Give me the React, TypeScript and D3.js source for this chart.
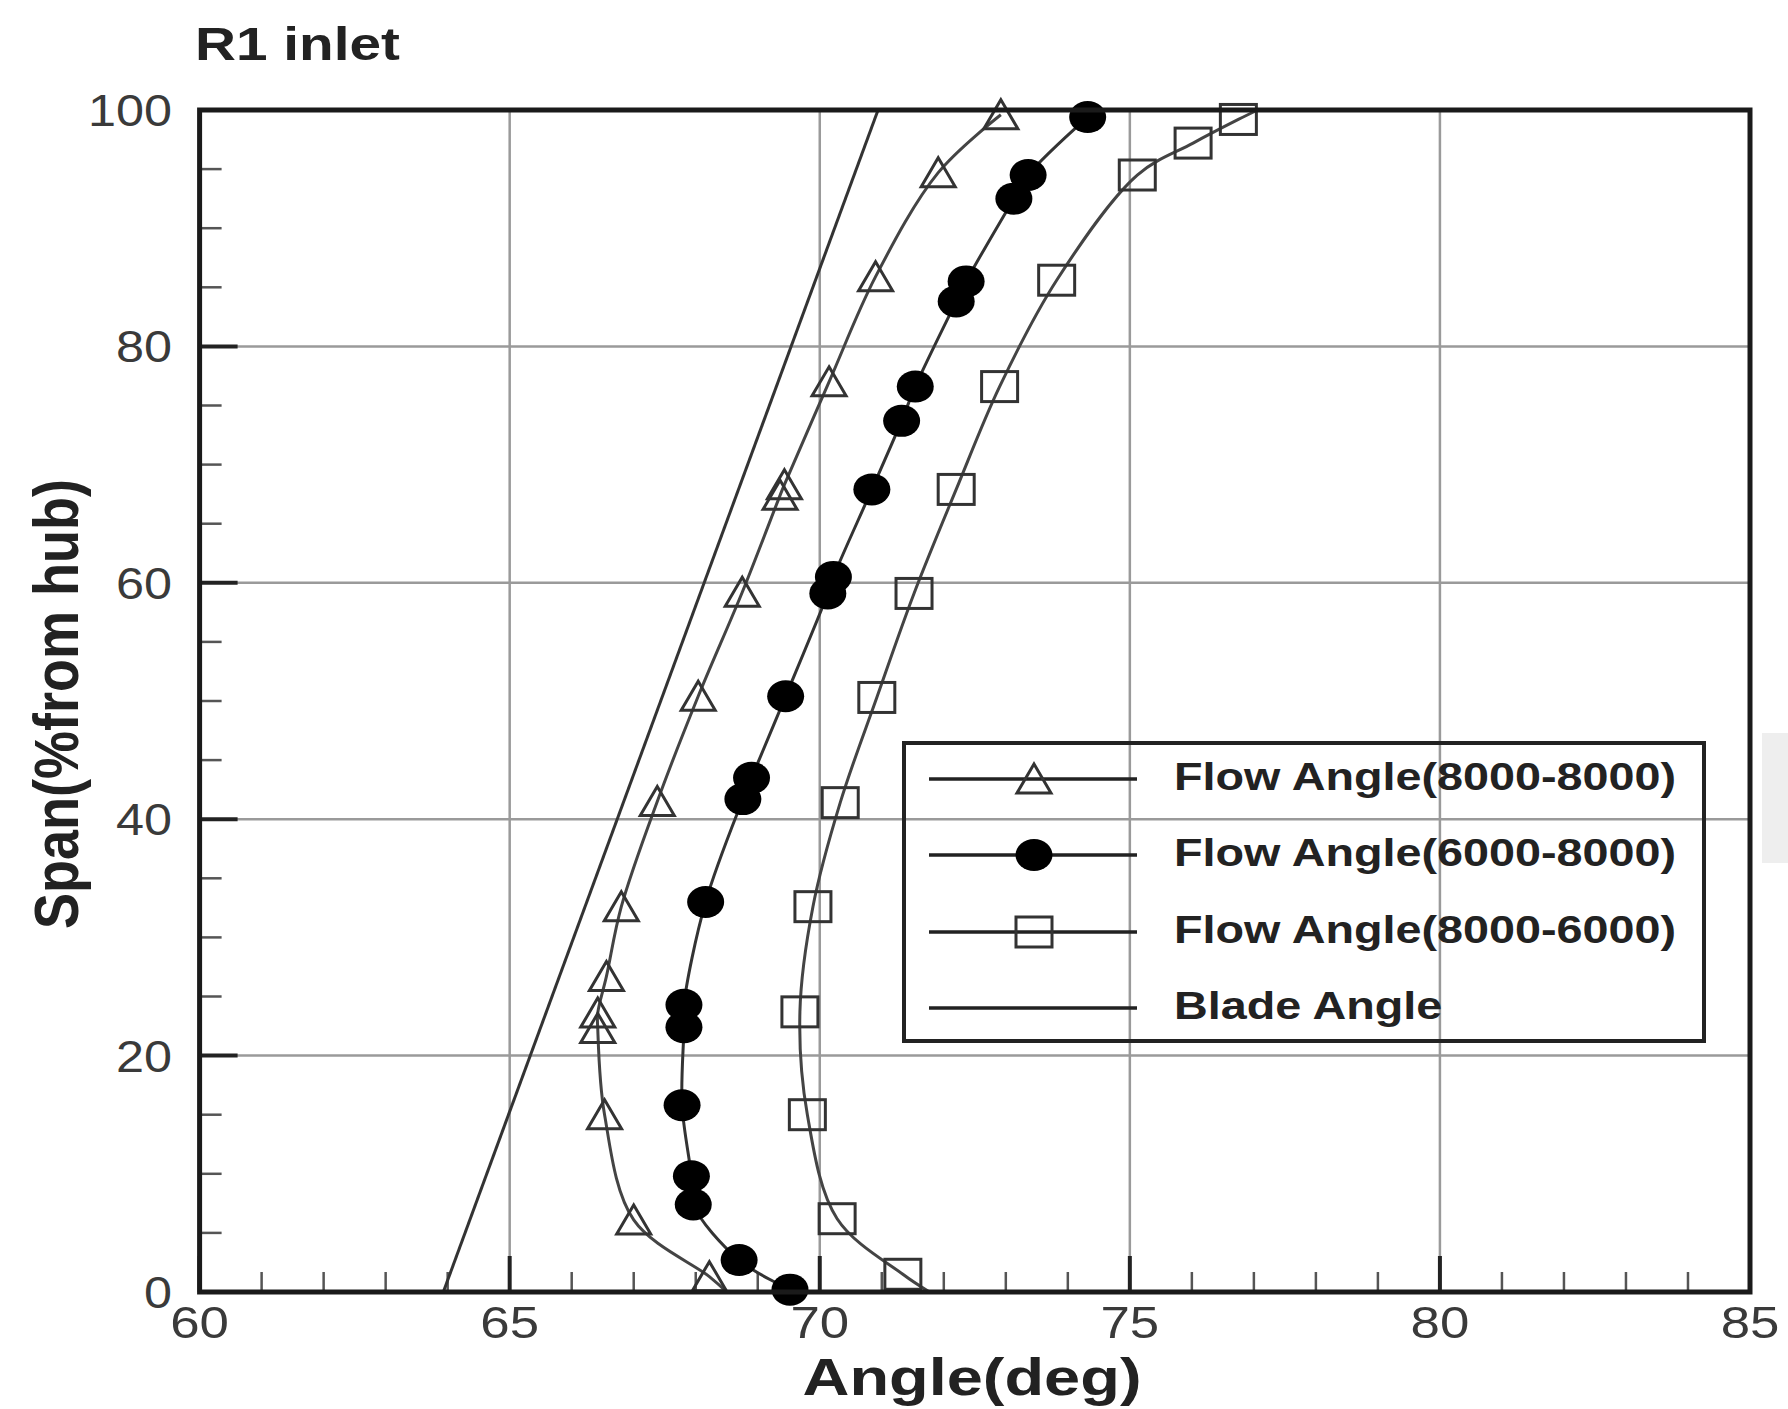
import React from "react";
import * as d3 from "d3";

// ---- data (angle in deg, span in % from hub) ----
const flow8080: [number, number][] = [
  [68.22, 1.3], [67.0, 6.1], [66.53, 15.0], [66.42, 22.3], [66.42, 23.6], [66.56, 26.7],
  [66.8, 32.6], [67.38, 41.5], [68.04, 50.4], [68.75, 59.2], [69.36, 67.4], [69.43, 68.3],
  [70.15, 77.0], [70.9, 85.9], [71.91, 94.7], [72.92, 99.6],
];
const flow6080: [number, number][] = [
  [69.52, 0.2], [68.7, 2.7], [67.96, 7.4], [67.93, 9.8], [67.78, 15.8], [67.81, 22.4],
  [67.81, 24.3], [68.16, 33.0], [68.76, 41.7], [68.9, 43.5], [69.45, 50.4], [70.13, 59.1],
  [70.22, 60.5], [70.84, 67.9], [71.32, 73.7], [71.54, 76.6], [72.2, 83.8], [72.36, 85.5],
  [73.13, 92.5], [73.36, 94.5], [74.32, 99.4],
];
const flow8060: [number, number][] = [
  [71.34, 1.5], [70.28, 6.2], [69.8, 15.0], [69.68, 23.7], [69.89, 32.6], [70.33, 41.4],
  [70.92, 50.3], [71.52, 59.1], [72.2, 67.9], [72.9, 76.6], [73.82, 85.6], [75.12, 94.5],
  [76.02, 97.2], [76.75, 99.2],
];
// where the fitted curves run on to the frame
const flow8080Ends: [number, number][] = [[68.5, 0]];
const flow8060Ends: [number, number][] = [[71.77, 0], [77.06, 100]];
const bladeAngle: [number, number][] = [[63.93, 0], [70.94, 100]];

const xMajor = [60, 65, 70, 75, 80, 85];
const yMajor = [0, 20, 40, 60, 80, 100];
const xMinor = d3.range(61, 85).filter((v) => v % 5 !== 0);
const yMinor = d3.range(5, 100, 5).filter((v) => v % 20 !== 0);

const legendLabels = [
  "Flow Angle(8000-8000)",
  "Flow Angle(6000-8000)",
  "Flow Angle(8000-6000)",
  "Blade Angle",
];

const FONT = "'Liberation Sans', Arial, Helvetica, sans-serif";

const L = 199.6, R = 1750, T = 110, B = 1292;
const x = d3.scaleLinear().domain([60, 85]).range([L, R]);
const y = d3.scaleLinear().domain([0, 100]).range([B, T]);

const line = d3
  .line<[number, number]>()
  .x((d) => x(d[0]))
  .y((d) => y(d[1]))
  .curve(d3.curveCatmullRom.alpha(0.5));
const straight = d3
  .line<[number, number]>()
  .x((d) => x(d[0]))
  .y((d) => y(d[1]));

const withEnds = (pts: [number, number][], ends: [number, number][]) =>
  [...pts, ...ends].sort((a, b) => a[1] - b[1]);

function Tri({ cx, cy }: { cx: number; cy: number }) {
  return (
    <path
      d={`M${cx},${cy - 15}L${cx + 17},${cy + 14}L${cx - 17},${cy + 14}Z`}
      fill="none"
      stroke="#333"
      strokeWidth={3}
    />
  );
}
function Dot({ cx, cy }: { cx: number; cy: number }) {
  return <ellipse cx={cx} cy={cy} rx={18.5} ry={16} fill="#000" />;
}
function Sq({ cx, cy }: { cx: number; cy: number }) {
  return (
    <rect x={cx - 18} y={cy - 15} width={36} height={30} fill="none" stroke="#333" strokeWidth={3} />
  );
}

export default function App() {
  const legendX = 904, legendY = 743, legendW = 800, legendH = 298;
  const rowY = [779, 855, 932, 1008];
  const markers = [Tri, Dot, Sq, null];
  return (
    <svg
      width={1788}
      height={1409}
      style={{ position: "absolute", left: 0, top: 0 }}
      fontFamily={FONT}
    >
      <rect x={0} y={0} width={1788} height={1409} fill="#fff" />
      <rect x={1762} y={733} width={26} height={130} fill="#eeeeee" />

      {/* grid */}
      {xMajor.filter((v) => v > 60 && v < 85).map((v) => (
        <line key={"gx" + v} x1={x(v)} x2={x(v)} y1={T} y2={B} stroke="#9a9a9a" strokeWidth={2.5} />
      ))}
      {yMajor.filter((v) => v > 0 && v < 100).map((v) => (
        <line key={"gy" + v} x1={L} x2={R} y1={y(v)} y2={y(v)} stroke="#9a9a9a" strokeWidth={2.5} />
      ))}

      {/* ticks */}
      {xMinor.map((v) => (
        <line key={"mx" + v} x1={x(v)} x2={x(v)} y1={B} y2={B - 20} stroke="#555" strokeWidth={2.5} />
      ))}
      {xMajor.map((v) => (
        <line key={"Mx" + v} x1={x(v)} x2={x(v)} y1={B} y2={B - 36} stroke="#222" strokeWidth={4} />
      ))}
      {yMinor.map((v) => (
        <line key={"my" + v} x1={L} x2={L + 22} y1={y(v)} y2={y(v)} stroke="#555" strokeWidth={2.5} />
      ))}
      {yMajor.map((v) => (
        <line key={"My" + v} x1={L} x2={L + 38} y1={y(v)} y2={y(v)} stroke="#222" strokeWidth={4} />
      ))}

      {/* blade angle */}
      <path d={straight(bladeAngle) || ""} fill="none" stroke="#333" strokeWidth={3} />

      {/* series lines */}
      <path d={line(withEnds(flow8080, flow8080Ends)) || ""} fill="none" stroke="#444" strokeWidth={3} />
      <path d={line(flow6080) || ""} fill="none" stroke="#333" strokeWidth={3} />
      <path d={line(withEnds(flow8060, flow8060Ends)) || ""} fill="none" stroke="#444" strokeWidth={3} />

      {flow8080.map((d, i) => (
        <Tri key={"t" + i} cx={x(d[0])} cy={y(d[1])} />
      ))}
      {flow6080.map((d, i) => (
        <Dot key={"c" + i} cx={x(d[0])} cy={y(d[1])} />
      ))}
      {flow8060.map((d, i) => (
        <Sq key={"s" + i} cx={x(d[0])} cy={y(d[1])} />
      ))}

      {/* legend */}
      <rect x={legendX} y={legendY} width={legendW} height={legendH} fill="none" stroke="#222" strokeWidth={4} />
      {legendLabels.map((lab, i) => {
        const M = markers[i];
        return (
          <g key={"lg" + i}>
            <line x1={929} x2={1137} y1={rowY[i]} y2={rowY[i]} stroke="#222" strokeWidth={3.5} />
            {M && <M cx={1034} cy={rowY[i]} />}
            <text
              transform={`translate(1174,${rowY[i] + 11}) scale(1.23,1)`}
              fontSize={38}
              fontWeight="bold"
              fill="#222"
            >
              {lab}
            </text>
          </g>
        );
      })}

      {/* frame */}
      <rect x={L} y={T} width={R - L} height={B - T} fill="none" stroke="#1a1a1a" strokeWidth={5} />

      {/* tick labels */}
      {xMajor.map((v) => (
        <text
          key={"xl" + v}
          transform={`translate(${x(v)},1338) scale(1.2,1)`}
          textAnchor="middle"
          fontSize={44}
          fill="#3a3a3a"
        >
          {v}
        </text>
      ))}
      {yMajor.map((v) => (
        <text
          key={"yl" + v}
          transform={`translate(172,${y(v) + 16}) scale(1.12,1)`}
          textAnchor="end"
          fontSize={45}
          fill="#3a3a3a"
        >
          {v}
        </text>
      ))}

      {/* titles */}
      <text
        x={195}
        y={60}
        fontSize={46}
        fontWeight="bold"
        fill="#222"
        textLength={205}
        lengthAdjust="spacingAndGlyphs"
      >
        R1 inlet
      </text>
      <text
        x={972}
        y={1395}
        textAnchor="middle"
        fontSize={52}
        fontWeight="bold"
        fill="#222"
        textLength={339}
        lengthAdjust="spacingAndGlyphs"
      >
        Angle(deg)
      </text>
      <text
        transform="translate(78,704) rotate(-90) scale(1,1.15)"
        textAnchor="middle"
        fontSize={54}
        fontWeight="bold"
        fill="#222"
      >
        Span(%from hub)
      </text>
    </svg>
  );
}
